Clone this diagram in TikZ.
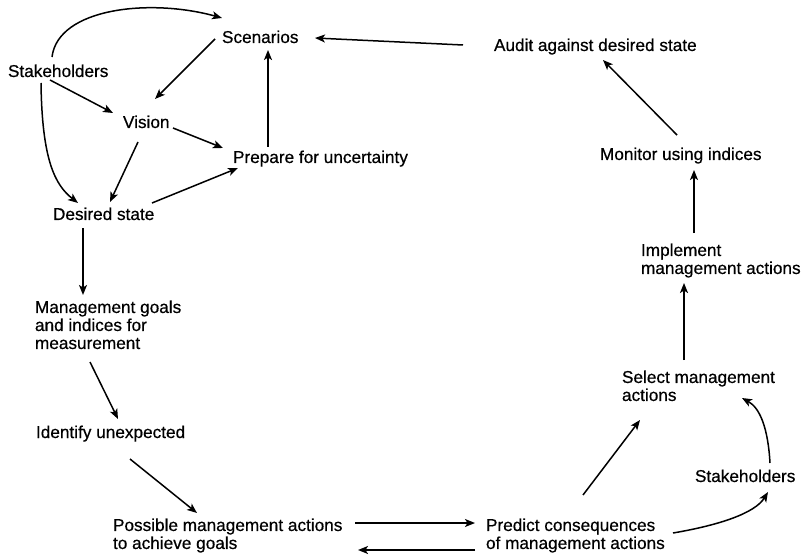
\documentclass[tikz,border=0pt]{standalone}
\usepackage{fontspec}
\setmainfont{Liberation Sans}[FakeBold=0.5]
\usetikzlibrary{arrows.meta}
\begin{document}
\begin{tikzpicture}[x=1pt,y=1pt,
  lbl/.style={inner sep=0pt, outer sep=0pt, font=\fontsize{17.2}{18}\selectfont, text height=12.5pt, text depth=3.7pt, anchor=base west},
  mlbl/.style={inner sep=0pt, outer sep=0pt, font=\fontsize{17.2}{18}\selectfont, align=left, anchor=north west},
  arr/.style={line width=1.5pt, -{Stealth[length=10pt,width=8pt,inset=2.5pt]}}]
\useasboundingbox (0,0) rectangle (803,558);
% nodes
\node[lbl] (stL) at (8,481) {Stakeholders};
\node[lbl] (scen) at (222,515) {Scenarios};
\node[lbl] (vis) at (123,430) {Vision};
\node[lbl] (prep) at (233,395) {Prepare for uncertainty};
\node[lbl] (des) at (53,338) {Desired state};
\node[lbl] (audit) at (494,507) {Audit against desired state};
\node[lbl] (mon) at (600,398) {Monitor using indices};
\node[mlbl] (impl) at (641,314.5) {Implement\\management actions};
\node[mlbl] (sel) at (622,187.5) {Select management\\actions};
\node[lbl] (stR) at (695,76) {Stakeholders};
\node[mlbl] (pred) at (486,39.5) {Predict consequences\\of management actions};
\node[mlbl] (mgoal) at (35,257.5) {Management goals\\and indices for\\measurement};
\node[lbl] (ident) at (36,120) {Identify unexpected};
\node[mlbl] (poss) at (113,39.5) {Possible management actions\\to achieve goals};
% connectors
\draw[arr] ([shift={(44,20)}]stL.base west) .. controls +(6,49) and +(-72,20) .. ([shift={(0,25)}]scen.base west);
\draw[arr] ([shift={(-7,4)}]scen.base west) -- ([shift={(32,29)}]vis.base west);
\draw[arr] ([shift={(42,-3)}]stL.base west) -- ([shift={(-10,15)}]vis.base west);
\draw[arr] ([shift={(33,-6)}]stL.base west) .. controls +(1,-77) and +(-23,18) .. ([shift={(25,17)}]des.base west);
\draw[arr] ([shift={(15,-14)}]vis.base west) -- ([shift={(57,18)}]des.base west);
\draw[arr] ([shift={(50,0)}]vis.base west) -- ([shift={(-10,15)}]prep.base west);
\draw[arr] ([shift={(99,17)}]des.base west) -- ([shift={(5,-5)}]prep.base west);
\draw[arr] ([shift={(35,16)}]prep.base west) -- ([shift={(46,-7)}]scen.base west);
\draw[arr] ([shift={(-31,6)}]audit.base west) -- ([shift={(93,5)}]scen.base west);
\draw[arr] ([shift={(77,25)}]mon.base west) -- ([shift={(109,-9)}]audit.base west);
\draw[arr] ([shift={(53,10.5)}]impl.north west) -- ([shift={(94,-10)}]mon.base west);
\draw[arr] ([shift={(62,10.5)}]sel.north west) -- ([shift={(43,-39.5)}]impl.north west);
\draw[arr] ([shift={(97,23.5)}]pred.north west) -- ([shift={(18,-49.5)}]sel.north west);
\draw[arr] ([shift={(187,-14.5)}]pred.north west) .. controls +(47,8) and +(-13,-21) .. ([shift={(73,-10)}]stR.base west);
\draw[arr] ([shift={(75,19)}]stR.base west) .. controls +(-2,35) and +(18,-10) .. ([shift={(120,-27.5)}]sel.north west);
\draw[arr] ([shift={(30,-8)}]des.base west) -- ([shift={(48,5.5)}]mgoal.north west);
\draw[arr] ([shift={(55,-61.5)}]mgoal.north west) -- ([shift={(82,19)}]ident.base west);
\draw[arr] ([shift={(94,-21)}]ident.base west) -- ([shift={(84,5.5)}]poss.north west);
\draw[arr] ([shift={(242,-4.5)}]poss.north west) -- ([shift={(-11,-4.5)}]pred.north west);
\draw[arr] ([shift={(-11,-31.5)}]pred.north west) -- ([shift={(245,-31.5)}]poss.north west);
\end{tikzpicture}
\end{document}
